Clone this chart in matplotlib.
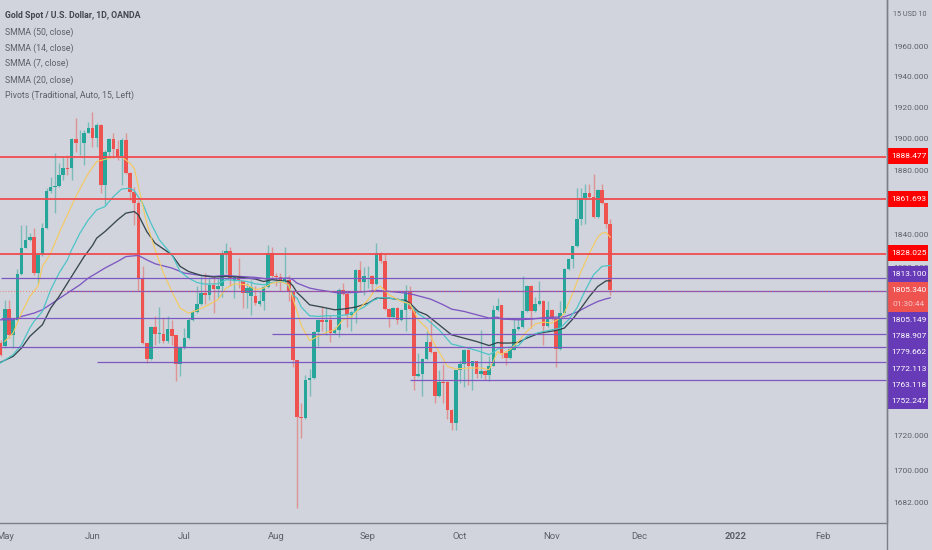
import matplotlib
matplotlib.use("Agg")
import matplotlib.pyplot as plt
from matplotlib.patches import Rectangle
from matplotlib.ticker import NullLocator
import numpy as np

# daily candles, one entry per bar
opens = [1774.2,1772.6,1794.5,1779.2,1788.1,1815.9,1831.9,1836.3,1838.3,1816.1,
         1827.3,1843.9,1867.2,1869.7,1870.1,1877.3,1881.7,1881.3,1899.6,1897.1,
         1897.1,1903.9,1907.1,1900.7,1908.8,1870.8,1891.8,1899.6,1893.2,1889.0,
         1899.2,1878.5,1866.6,1859.3,1812.7,1774.2,1764.9,1783.8,1779.6,1779.6,
         1775.6,1782.6,1778.8,1761.8,1771.2,1777.2,1788.1,1792.5,1797.7,1804.2,
         1803.2,1809.2,1806.6,1808.6,1828.5,1830.1,1811.2,1813.7,1811.2,1804.2,
         1802.5,1802.7,1797.7,1799.5,1807.6,1828.5,1814.7,1813.7,1811.2,1812.3,
         1805.2,1763.9,1730.7,1729.9,1752.2,1753.4,1780.5,1787.7,1786.5,1788.1,
         1780.1,1781.7,1806.2,1803.8,1791.1,1792.5,1818.0,1810.8,1814.3,1814.7,
         1809.8,1828.5,1823.8,1794.7,1789.7,1795.1,1788.1,1794.1,1805.2,1794.5,
         1754.5,1755.9,1764.9,1774.8,1768.8,1742.8,1751.2,1751.4,1734.7,1727.4,
         1758.0,1761.7,1770.2,1760.8,1763.3,1756.1,1757.8,1755.1,1760.8,1793.7,
         1796.7,1768.2,1765.3,1770.2,1782.5,1783.7,1793.1,1808.6,1793.1,1797.7,
         1799.5,1784.1,1794.1,1788.5,1770.6,1792.1,1818.7,1824.8,1832.6,1849.4,
         1862.4,1865.6,1863.5,1850.7,1867.6,1859.3,1846.5]
closes = [1767.2,1794.5,1779.2,1788.1,1815.9,1831.9,1836.3,1838.3,1816.1,1827.3,
          1843.9,1867.2,1869.7,1870.1,1877.3,1881.7,1881.1,1899.6,1897.1,1897.5,
          1903.9,1907.1,1900.7,1908.8,1870.8,1891.8,1899.6,1893.2,1888.6,1899.2,
          1878.5,1866.6,1859.3,1812.7,1774.2,1764.9,1783.8,1779.6,1780.0,1775.6,
          1782.6,1778.6,1761.8,1771.2,1777.2,1788.1,1792.5,1797.7,1804.2,1803.2,
          1809.2,1806.6,1808.6,1828.5,1830.1,1812.7,1814.3,1811.2,1804.2,1807.2,
          1807.6,1798.1,1799.5,1807.6,1828.5,1814.7,1813.7,1811.2,1812.7,1804.8,
          1763.9,1730.7,1729.9,1752.2,1753.4,1780.5,1787.7,1786.5,1788.1,1780.1,
          1781.7,1806.2,1803.8,1791.1,1792.5,1818.0,1810.8,1814.3,1814.7,1809.8,
          1828.5,1823.8,1794.7,1789.7,1795.1,1788.1,1794.1,1805.2,1794.5,1754.5,
          1755.9,1764.9,1774.8,1768.8,1742.8,1751.2,1750.8,1734.7,1727.4,1758.0,
          1761.7,1770.2,1760.8,1763.3,1756.1,1757.8,1755.1,1760.8,1793.7,1796.4,
          1768.2,1765.3,1770.6,1782.5,1783.7,1793.1,1808.6,1793.1,1797.7,1799.5,
          1784.1,1794.1,1788.5,1770.6,1792.1,1818.7,1824.8,1832.6,1849.4,1862.4,
          1865.6,1863.5,1850.7,1867.6,1859.3,1846.5,1806.2]
highs = [1776.2,1800.1,1800.1,1789.1,1818.7,1845.9,1845.9,1840.8,1843.9,1828.5,
         1846.9,1868.7,1875.9,1890.7,1884.4,1888.6,1889.7,1900.3,1913.1,1905.6,
         1905.6,1910.9,1916.9,1909.9,1909.4,1892.8,1900.3,1903.5,1899.2,1900.3,
         1903.5,1879.1,1869.3,1861.4,1820.4,1774.2,1784.2,1790.5,1795.7,1789.1,
         1790.1,1788.1,1779.2,1772.2,1783.2,1789.1,1794.1,1808.6,1814.3,1816.3,
         1813.3,1814.3,1813.3,1830.5,1834.6,1832.5,1814.7,1825.4,1812.3,1810.2,
         1812.3,1808.6,1805.2,1809.2,1833.2,1832.5,1816.3,1816.3,1832.5,1815.3,
         1806.2,1764.3,1739.0,1755.5,1758.8,1781.1,1788.5,1795.6,1795.1,1791.1,
         1784.0,1807.2,1810.2,1804.6,1793.1,1818.8,1823.8,1820.0,1820.8,1815.3,
         1834.6,1828.9,1828.5,1795.1,1795.7,1795.7,1794.5,1809.2,1808.2,1795.1,
         1768.2,1765.3,1781.5,1788.1,1769.2,1758.4,1761.7,1752.0,1735.1,1758.4,
         1764.3,1770.6,1770.6,1763.7,1763.7,1781.7,1758.4,1766.3,1797.0,1801.0,
         1797.1,1768.6,1771.2,1789.1,1789.1,1814.3,1809.2,1809.0,1802.1,1811.2,
         1800.1,1799.5,1794.5,1789.1,1799.5,1819.3,1825.4,1833.0,1868.7,1869.1,
         1871.4,1871.4,1877.6,1868.3,1871.4,1859.8,1849.4]
lows = [1766.3,1771.2,1777.2,1771.2,1787.1,1815.3,1831.5,1835.7,1815.3,1810.2,
        1826.9,1843.3,1866.0,1853.2,1869.3,1873.8,1877.0,1873.8,1891.8,1889.7,
        1883.1,1903.5,1894.9,1894.9,1865.6,1858.3,1887.6,1887.6,1886.5,1870.8,
        1877.6,1861.4,1845.9,1805.2,1773.7,1762.4,1764.3,1773.2,1774.2,1774.2,
        1774.2,1773.2,1751.6,1754.5,1770.6,1776.6,1787.5,1792.1,1797.1,1797.7,
        1800.1,1792.1,1801.1,1802.1,1816.3,1808.6,1801.1,1807.0,1795.1,1795.1,
        1791.1,1797.1,1796.1,1794.1,1807.2,1813.3,1808.6,1805.2,1810.2,1799.1,
        1760.0,1678.8,1718.7,1729.3,1742.8,1753.0,1772.2,1781.5,1779.1,1775.1,
        1779.7,1777.7,1803.2,1783.5,1781.1,1786.1,1805.2,1803.2,1807.2,1804.2,
        1809.2,1822.4,1794.1,1783.5,1789.1,1785.5,1787.1,1781.5,1794.1,1746.3,
        1754.1,1743.2,1764.3,1768.2,1739.0,1742.3,1739.0,1729.3,1723.0,1723.4,
        1750.4,1748.1,1749.5,1746.6,1753.6,1753.6,1752.6,1752.0,1760.4,1793.1,
        1765.3,1761.4,1764.7,1769.8,1782.1,1783.1,1792.5,1783.3,1792.5,1797.1,
        1773.2,1783.7,1787.7,1760.0,1770.2,1791.7,1818.3,1819.3,1832.2,1845.9,
        1846.3,1861.8,1850.3,1850.1,1858.9,1843.8,1803.1]

smma7_bars = [1,3,5,7,9,10,12,14,16,18,21,23,25,27,29,31,32,34,35,37,39,41,43,45,47,49,52,54,56,59,61,63,65,67,69,
              70,72,74,76,78,80,82,84,86,88,90,91,93,96,98,100,102,104,107,109,112,115,117,118,119,
              120,121,122,124,126,128,130,132,134,135,137,139,141,143,144,145,146]
smma7 = [1775.2,1780.2,1792.1,1802.1,1808.6,1820.4,1828.5,1840.8,1852.1,1863.5,1878.1,1885.5,1886.9,1888.2,1888.6,1884.4,1881.3,1858.3,1846.9,1830.5,1816.3,1805.2,1795.1,1792.1,1793.7,1796.1,1800.1,1807.2,1809.8,1809.2,1806.2,1807.2,1810.2,1811.2,1809.2,
         1801.0,1784.7,1775.7,1778.1,1780.5,1782.1,1788.1,1789.7,1795.1,1800.1,1807.2,1808.2,1803.2,1799.1,1797.7,1788.1,1783.1,1773.2,1760.4,1758.8,1759.4,1759.4,1758.4,1763.3,1769.2,
         1767.3,1769.2,1770.2,1775.2,1781.1,1785.5,1786.7,1786.1,1789.1,1792.1,1804.1,1817.3,1828.5,1838.3,1840.8,1841.2,1838.3]

smma14_bars = [0,3,5,7,8,10,12,14,16,17,19,21,23,25,27,29,31,32,34,36,38,41,43,45,47,49,52,54,57,59,61,63,65,68,69,70,
               71,72,74,76,78,81,83,85,87,89,91,93,96,98,100,102,105,108,111,114,117,118,119,
               120,122,124,126,129,132,134,136,138,140,142,144,146]
smma14 = [1762.4,1767.3,1773.2,1783.2,1787.1,1793.1,1806.2,1816.3,1824.4,1830.5,1840.8,1849.0,1855.2,1857.3,1863.5,1868.3,1868.7,1867.2,1859.3,1846.9,1836.7,1827.5,1817.3,1813.3,1810.6,1809.6,1809.8,1812.3,1811.8,1811.2,1809.8,1809.2,1810.6,1811.2,1808.2,1803.0,
          1801.1,1795.7,1790.5,1790.1,1790.5,1790.5,1791.1,1793.1,1795.7,1799.5,1801.5,1801.1,1800.1,1797.1,1791.7,1788.5,1782.1,1773.6,1771.8,1769.8,1767.3,1768.6,1770.6,
          1771.2,1771.8,1772.6,1778.1,1780.5,1782.1,1783.1,1788.1,1795.1,1805.7,1815.3,1820.4,1821.0]

smma20_bars = [0,3,5,7,10,12,14,16,18,20,22,23,25,28,30,32,33,35,37,41,43,45,48,51,54,57,61,63,65,69,70,71,
               72,74,77,80,82,85,88,90,93,97,98,100,102,105,108,111,114,117,119,
               120,122,124,126,129,133,135,137,139,141,143,145,146]
smma20 = [1762.8,1766.3,1771.2,1778.2,1785.1,1795.1,1802.1,1810.2,1818.3,1826.4,1833.2,1837.7,1841.8,1849.0,1853.2,1854.2,1852.1,1841.8,1834.6,1827.5,1820.4,1817.3,1814.9,1813.9,1814.3,1813.9,1812.7,1811.2,1812.3,1811.2,1808.5,1804.5,
          1802.1,1797.1,1795.7,1794.1,1794.5,1795.7,1798.1,1801.1,1801.1,1799.7,1798.1,1793.1,1791.1,1785.1,1779.1,1777.1,1775.1,1772.7,1774.5,
          1774.2,1774.2,1774.6,1777.1,1780.1,1781.7,1783.1,1788.5,1795.1,1802.1,1808.2,1811.6,1811.6]

smma50_bars = [0,3,5,8,10,13,16,19,21,23,25,28,30,33,35,37,41,44,48,51,54,57,61,64,69,
               70,71,74,76,78,81,85,88,90,93,97,99,103,106,108,111,114,117,119,
               120,124,127,131,135,138,141,143,145,146]
smma50 = [1788.1,1788.1,1790.1,1792.1,1794.1,1799.1,1804.2,1809.2,1813.3,1816.3,1819.4,1823.4,1826.4,1827.1,1824.4,1822.0,1819.4,1816.3,1814.9,1814.3,1814.9,1814.3,1813.7,1812.7,1813.3,
          1812.3,1810.2,1807.2,1806.2,1805.4,1804.2,1804.6,1805.2,1805.8,1805.2,1804.2,1803.2,1800.5,1797.1,1794.5,1793.1,1791.1,1789.1,1789.7,
          1788.5,1788.1,1788.5,1789.5,1789.9,1792.7,1796.7,1799.1,1800.7,1801.3]

# pivot levels and where each one starts (bar index)
res_levels = [1888.477, 1861.693, 1828.025]
res_labels = ["1888.477", "1861.693", "1828.025"]
sup_levels = [1813.100, 1805.149, 1788.907, 1779.662, 1772.113, 1763.118, 1752.247]
sup_labels = ["1813.100", "1805.149", "1788.907", "1779.662", "1772.113", "1763.118", "1752.247"]
sup_starts = [0, 16, 0, 65, 0, 23, 98]
last_price = 1805.34
countdown = "01:30:44"

# only the ticks that show; the rest sit behind the price labels
ytick_values = [1960, 1940, 1920, 1900, 1880, 1840, 1820, 1720, 1700, 1682]
month_labels = ["May", "Jun", "Jul", "Aug", "Sep", "Oct", "Nov", "Dec", "2022", "Feb"]
month_bars = [1, 22, 44, 66, 88, 110, 132, 153, 176, 197]

legend_lines = ["SMMA (50, close)", "SMMA (14, close)", "SMMA (7, close)",
                "SMMA (20, close)", "Pivots (Traditional, Auto, 15, Left)"]

BG = "#d1d4dc"
UP = "#26a69a"
DOWN = "#ef5350"
TXT = "#5d606b"
PURPLE = "#673ab7"
W, H = 932, 550
AXIS_FS = 6
LEGEND_FS = 6.3

plt.rcParams["font.family"] = ["Roboto", "DejaVu Sans"]
fig = plt.figure(figsize=(W / 100, H / 100), dpi=100, facecolor=BG)
ax = fig.add_axes([0, 1 - 523 / H, 886.5 / W, 523 / H], facecolor=BG)

o = np.array(opens)
c = np.array(closes)
x = np.arange(len(o))
cols = [UP if c[i] >= o[i] else DOWN for i in x]

ax.vlines(x, lows, highs, colors=cols, linewidth=1, alpha=0.5, zorder=2)
ax.bar(x, np.abs(c - o), bottom=np.minimum(o, c), width=0.85, color=cols, linewidth=0, zorder=3)

xmax = 212.15
ax.plot(smma50_bars, smma50, color="#7e57c2", linewidth=0.95, zorder=4)
ax.plot(smma20_bars, smma20, color="#37474f", linewidth=0.95, zorder=4)
ax.plot(smma14_bars, smma14, color="#4dc4c8", linewidth=0.9, zorder=4)
ax.plot(smma7_bars, smma7, color="#f6c95c", linewidth=0.8, zorder=4)

for lvl in res_levels:
    ax.hlines(lvl, -1, xmax, colors="#ef4b4f", linewidth=1.3, zorder=5)
for lvl, st in zip(sup_levels, sup_starts):
    ax.hlines(lvl, st, xmax, colors="#7e57c2", linewidth=0.9, zorder=5)
ax.hlines(last_price, -1, xmax, colors=DOWN, linewidth=0.8, linestyle=":", alpha=0.6, zorder=5.5)

ax.set_yscale("log")
ax.set_xlim(-0.144, xmax)
ax.set_ylim(1670.3, 1990.5)
ax.set_yticks(ytick_values)
ax.set_yticklabels([f"{v}.000" for v in ytick_values])
ax.yaxis.set_minor_locator(NullLocator())
ax.yaxis.tick_right()
ax.tick_params(axis="y", length=0, pad=4.7, labelsize=AXIS_FS, labelcolor=TXT)
ax.set_xticks(month_bars)
ax.set_xticklabels(month_labels)
ax.tick_params(axis="x", length=0, pad=6.5, labelsize=6.8, labelcolor=TXT)
ax.get_xticklabels()[8].set_fontweight("bold")
for s in ["top", "left"]:
    ax.spines[s].set_visible(False)
for s in ["right", "bottom"]:
    ax.spines[s].set_color("#7c7f8a")
    ax.spines[s].set_linewidth(1)
# the right line keeps going through the time scale
fig.add_artist(plt.Line2D([886.5 / W, 886.5 / W], [0, 1], color="#7c7f8a", linewidth=1))


def fy(py):
    return 1 - py / H


def box(top, bottom, color):
    ax.add_patch(Rectangle((887 / W, fy(bottom)), 41 / W, (bottom - top) / H, transform=fig.transFigure,
                           facecolor=color, edgecolor="none", clip_on=False, zorder=6))


def label(py, s, color="white"):
    ax.text(909 / W, fy(py), s, transform=fig.transFigure, color=color, fontsize=AXIS_FS,
            ha="center", va="center", clip_on=False, zorder=8)


for (top, bottom), s in zip([(148, 164), (191, 207), (245, 261)], res_labels):
    box(top, bottom, "#ff0000")
    label((top + bottom) / 2, s)

box(266, 409, PURPLE)
box(282, 312, DOWN)
label(274, sup_labels[0])
label(290, f"{last_price:.3f}")
label(304, countdown, "#f5c6c6")
for py, s in zip([320, 336.5, 352.5, 369, 385, 401], sup_labels[1:]):
    label(py, s)

fig.text(893 / W, fy(15), "15 USD 10", color=TXT, fontsize=5.2, va="center")

fig.text(5 / W, fy(16), "Gold Spot / U.S. Dollar, 1D, OANDA", color="#434651", fontsize=LEGEND_FS,
         fontweight="bold", va="center")
for py, s in zip([32, 48, 63, 80, 95], legend_lines):
    fig.text(5 / W, fy(py), s, color=TXT, fontsize=LEGEND_FS, va="center")

fig.savefig("out.png", dpi=100, facecolor=BG)
